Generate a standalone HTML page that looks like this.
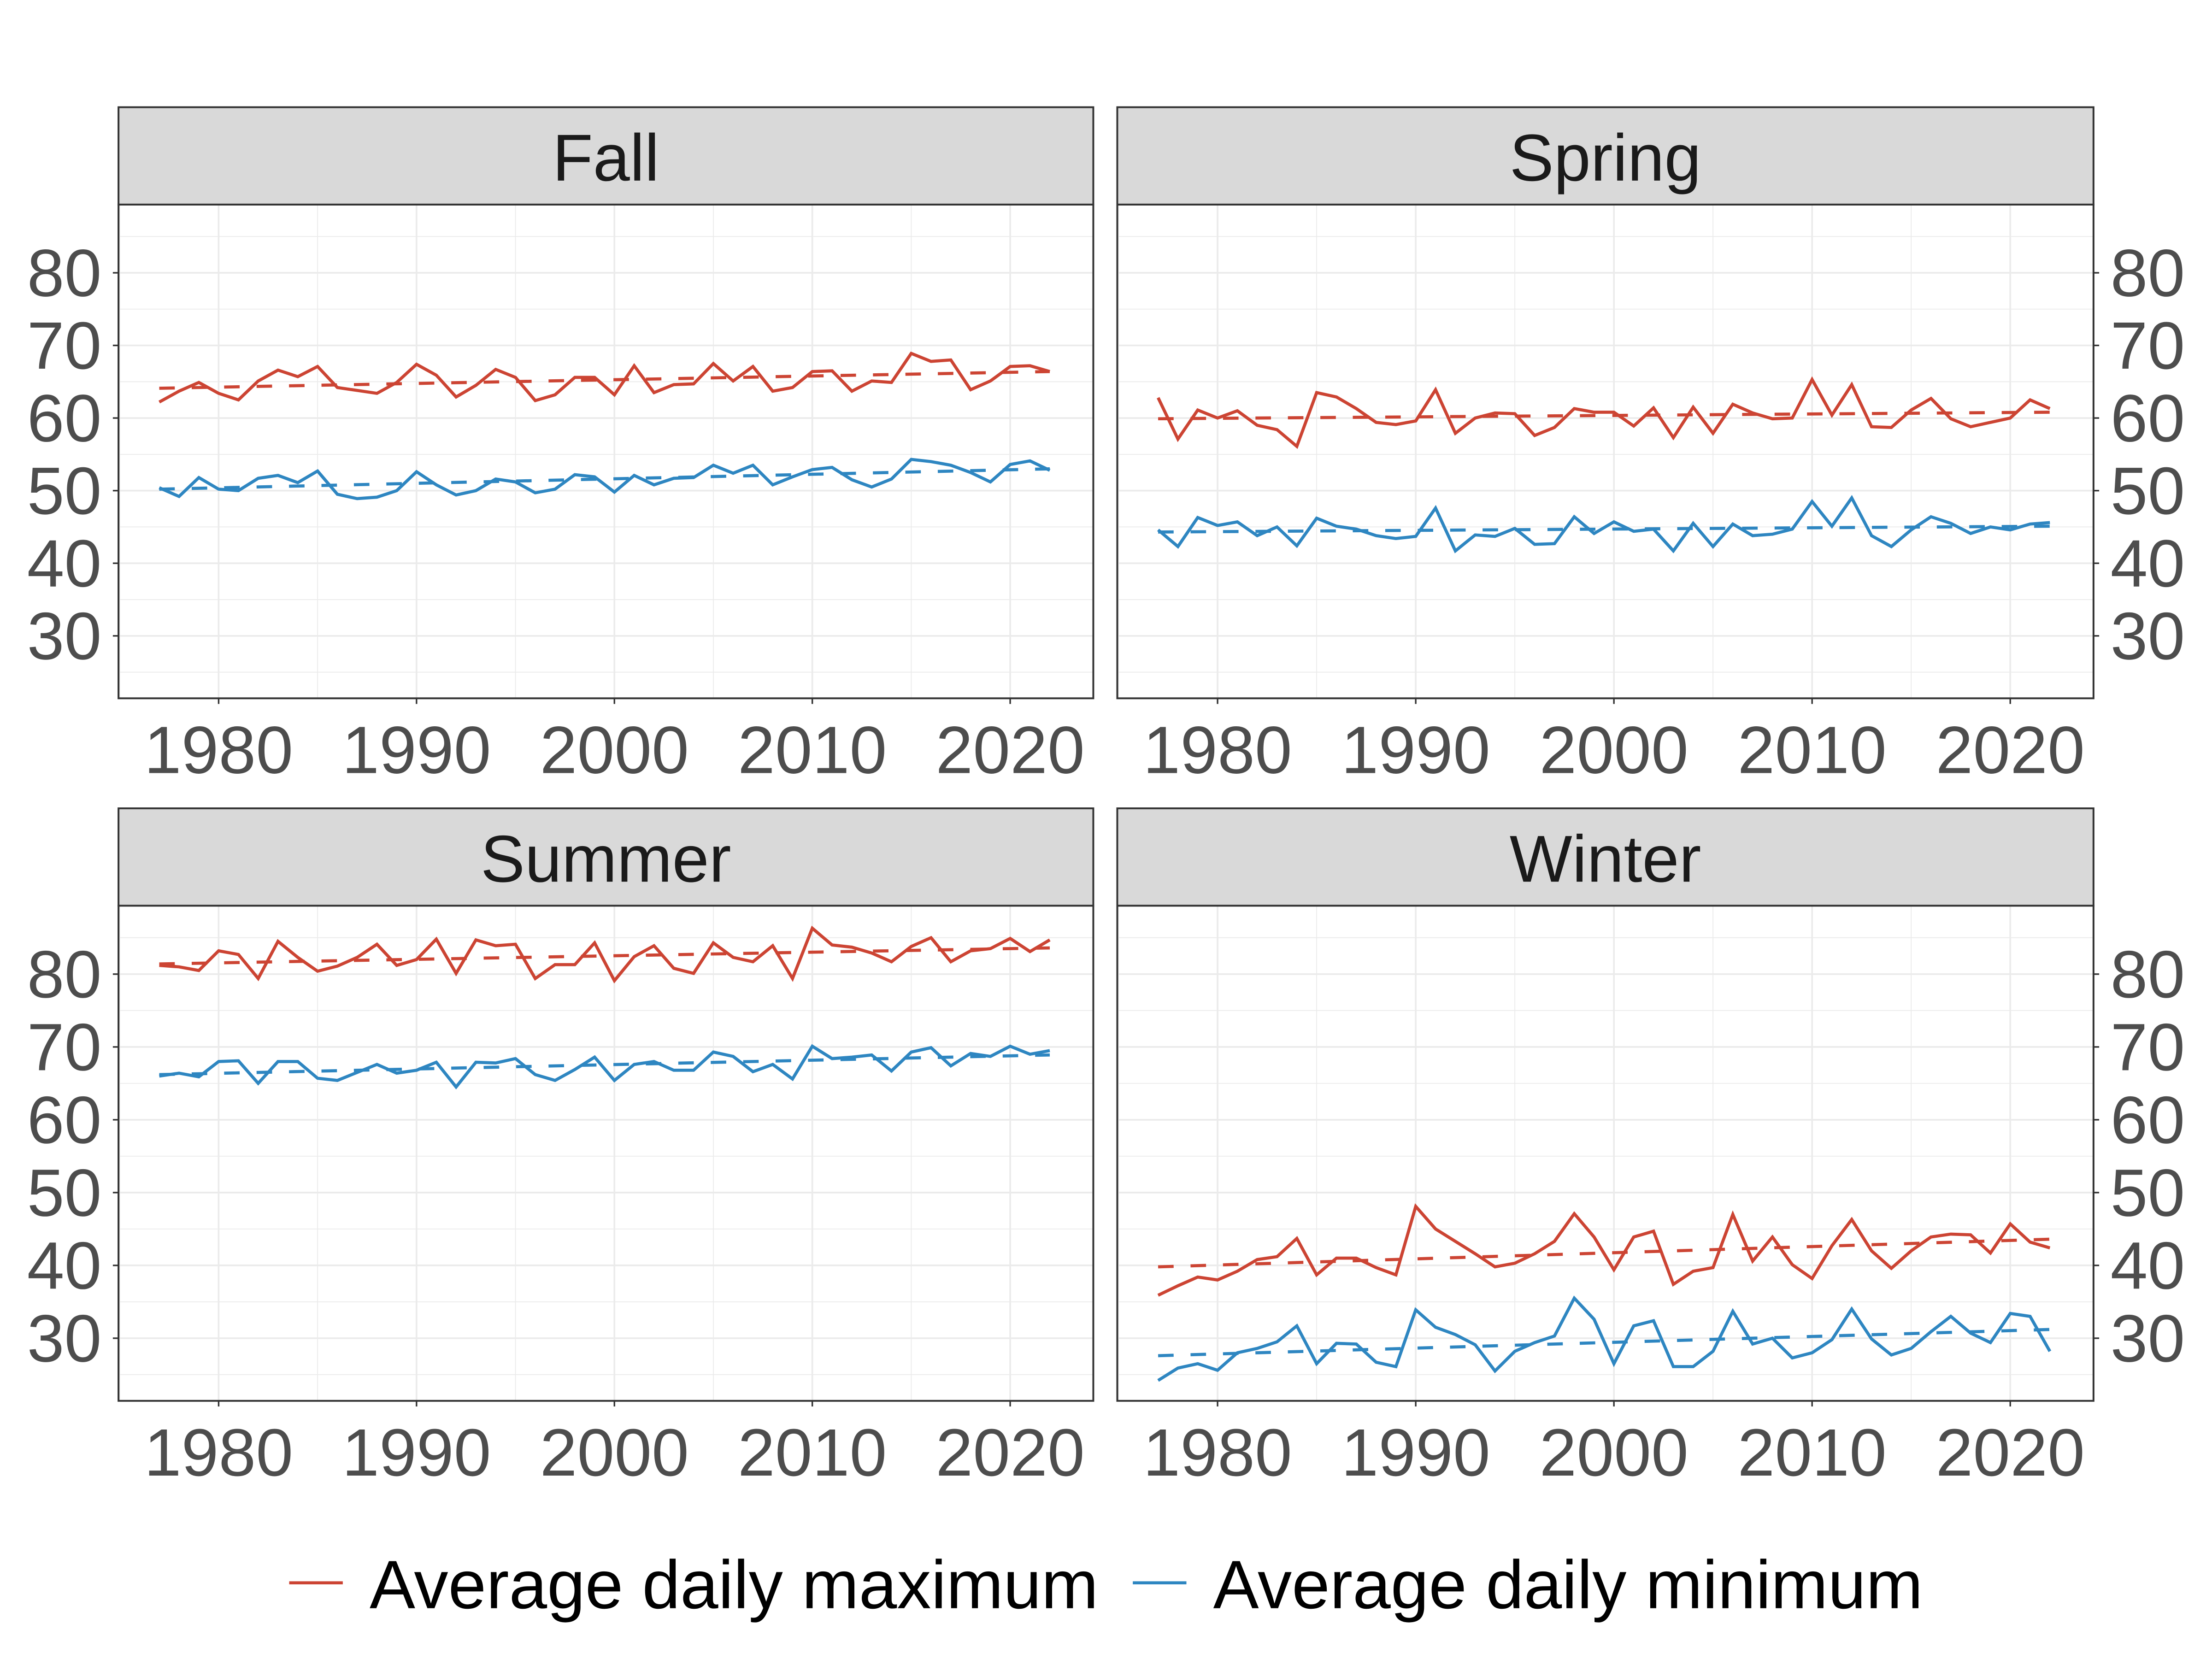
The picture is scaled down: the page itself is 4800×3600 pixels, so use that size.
<!DOCTYPE html>
<html><head><meta charset="utf-8"><style>
html,body{margin:0;padding:0;background:#fff;}
svg{display:block;font-family:"Liberation Sans",sans-serif;}
</style></head><body>
<svg id="chart" width="4800" height="3600" viewBox="0 0 1568 1176" xmlns="http://www.w3.org/2000/svg">
<rect width="1568" height="1176" fill="#fff"/>
<g id="panels"></g>
<g id="legend">
  <line x1="205" y1="1122" x2="243" y2="1122" stroke="#cc4433" stroke-width="2.2"/>
  <text x="262" y="1140" font-size="48.5" fill="#000">Average daily maximum</text>
  <line x1="803" y1="1122" x2="841" y2="1122" stroke="#2e86c1" stroke-width="2.2"/>
  <text x="860" y="1140" font-size="48.5" fill="#000">Average daily minimum</text>
</g>
</svg>
<script>
const years = [];
for (let y = 1977; y <= 2022; y++) years.push(y);
const seasons = ["Fall", "Spring", "Summer", "Winter"];
const yTicks = [30, 40, 50, 60, 70, 80];
const xTicks = [1980, 1990, 2000, 2010, 2020];

const fallMax = [62.2,63.7,64.9,63.4,62.5,65.1,66.6,65.7,67.1,64.2,63.8,63.4,64.9,67.4,65.9,62.9,64.5,66.7,65.6,62.4,63.2,65.6,65.6,63.2,67.2,63.5,64.6,64.7,67.5,65.1,67.1,63.7,64.2,66.4,66.5,63.7,65.1,64.9,68.9,67.8,68.0,63.9,65.1,67.1,67.2,66.4];
const fallMin = [50.4,49.2,51.8,50.2,50.0,51.7,52.1,51.1,52.7,49.5,48.9,49.1,50.0,52.6,50.8,49.4,50.0,51.6,51.2,49.7,50.2,52.2,51.9,49.8,52.1,50.8,51.7,51.8,53.5,52.4,53.5,50.8,51.9,52.9,53.2,51.5,50.5,51.6,54.3,54.0,53.5,52.5,51.2,53.6,54.1,52.8];
const springMax = [62.8,57.1,61.1,60.0,61.0,59.0,58.4,56.1,63.5,62.9,61.3,59.4,59.1,59.6,63.9,57.9,60.0,60.7,60.6,57.6,58.7,61.3,60.8,60.8,58.9,61.4,57.3,61.5,57.9,61.9,60.7,59.9,60.0,65.3,60.4,64.6,58.8,58.7,61.1,62.7,59.9,58.8,59.4,60.0,62.5,61.3];
const springMin = [44.6,42.3,46.3,45.2,45.7,43.8,45.0,42.4,46.2,45.1,44.7,43.8,43.4,43.7,47.6,41.7,43.9,43.7,44.8,42.6,42.7,46.4,44.1,45.7,44.4,44.7,41.7,45.5,42.3,45.4,43.8,44.0,44.7,48.5,45.1,49.0,43.8,42.3,44.6,46.4,45.5,44.1,45.0,44.6,45.4,45.6];
const summerMax = [81.2,81.0,80.5,83.2,82.7,79.4,84.5,82.3,80.4,81.1,82.3,84.1,81.2,82.0,84.8,80.1,84.7,83.9,84.1,79.4,81.3,81.3,84.3,79.1,82.4,83.9,80.8,80.1,84.3,82.3,81.7,83.9,79.4,86.3,84.0,83.7,82.9,81.7,83.8,85.0,81.7,83.2,83.5,84.9,83.1,84.7];
const summerMin = [66.0,66.4,65.9,68.0,68.1,65.0,68.0,68.0,65.7,65.4,66.5,67.6,66.4,66.8,67.9,64.5,67.9,67.8,68.4,66.2,65.4,66.9,68.6,65.4,67.6,68.0,66.8,66.8,69.3,68.7,66.6,67.6,65.6,70.1,68.4,68.6,68.9,66.7,69.3,69.9,67.4,69.1,68.7,70.1,69.0,69.5];
const winterMax = [35.9,37.2,38.4,38.0,39.2,40.8,41.2,43.7,38.7,41.0,41.0,39.7,38.7,48.1,45.0,43.3,41.6,39.8,40.3,41.6,43.3,47.1,43.9,39.4,43.9,44.7,37.4,39.2,39.7,47.0,40.6,43.9,40.1,38.2,42.7,46.3,42.0,39.6,42.0,43.9,44.3,44.2,41.7,45.7,43.2,42.4];
const winterMin = [24.2,25.9,26.5,25.6,28.0,28.6,29.5,31.7,26.5,29.3,29.2,26.7,26.1,33.9,31.5,30.5,29.1,25.5,28.2,29.4,30.3,35.5,32.6,26.5,31.7,32.4,26.1,26.1,28.2,33.7,29.2,30.0,27.3,28.0,29.8,34.0,29.9,27.7,28.6,30.9,33.0,30.7,29.4,33.4,33.0,28.2];
// linear trend endpoints [1977, 2022]
const trendMax = [[64.1,66.4],[59.9,60.8],[81.4,83.6],[39.8,43.6]];
const trendMin = [[50.2,53.0],[44.3,45.1],[66.2,68.9],[27.6,31.2]];

const seriesMax = [fallMax, springMax, summerMax, winterMax];
const seriesMin = [fallMin, springMin, summerMin, winterMin];

const NS = "http://www.w3.org/2000/svg";
const root = document.getElementById("panels");
function mk(tag, attrs, parent) {
  const e = document.createElementNS(NS, tag);
  for (const k in attrs) e.setAttribute(k, attrs[k]);
  parent.appendChild(e);
  return e;
}
const layout = [
  {x0: 84, x1: 775, st: 76, y0: 145, y1: 495, right: false},
  {x0: 792, x1: 1484, st: 76, y0: 145, y1: 495, right: true},
  {x0: 84, x1: 775, st: 573, y0: 642, y1: 993, right: false},
  {x0: 792, x1: 1484, st: 573, y0: 642, y1: 993, right: true}
];
const XMIN = 1974.94, XMAX = 2024.2, YMIN = 21.4, YMAX = 89.4;

seasons.forEach((name, i) => {
  const L = layout[i];
  const g = mk("g", {}, root);
  
  
  const sx = v => L.x0 + (v - XMIN) / (XMAX - XMIN) * (L.x1 - L.x0);
  const sy = v => L.y1 - (v - YMIN) / (YMAX - YMIN) * (L.y1 - L.y0);
  const bg = mk("rect", {x: L.x0, y: L.y0, width: L.x1 - L.x0, height: L.y1 - L.y0, fill: "#fff"}, g);
  
  
  for (let v = 25; v <= 85; v += 10) {
    const l = mk("line", {x1: L.x0, x2: L.x1, y1: sy(v), y2: sy(v), stroke: "#ebebeb", "stroke-width": 0.6}, g);
    
    
  }
  for (let v = 1975; v <= 2025; v += 10) {
    if (sx(v) < L.x0 || sx(v) > L.x1) continue;
    const l = mk("line", {x1: sx(v), x2: sx(v), y1: L.y0, y2: L.y1, stroke: "#ebebeb", "stroke-width": 0.6}, g);
    
    
  }
  yTicks.forEach(v => {
    const l = mk("line", {x1: L.x0, x2: L.x1, y1: sy(v), y2: sy(v), stroke: "#ebebeb", "stroke-width": 1.2}, g);
    
    
    const tk = L.right ? mk("line", {x1: L.x1, x2: L.x1 + 4, y1: sy(v), y2: sy(v), stroke: "#333", "stroke-width": 1.1}, g)
                       : mk("line", {x1: L.x0 - 4, x2: L.x0, y1: sy(v), y2: sy(v), stroke: "#333", "stroke-width": 1.1}, g);
    
    
    const t = mk("text", {x: L.right ? L.x1 + 12 : L.x0 - 12, y: sy(v) + 16.5, "font-size": 47.5, fill: "#4d4d4d", "text-anchor": L.right ? "start" : "end"}, g);
    t.textContent = v;
    
    
  });
  xTicks.forEach(v => {
    const l = mk("line", {x1: sx(v), x2: sx(v), y1: L.y0, y2: L.y1, stroke: "#ebebeb", "stroke-width": 1.2}, g);
    
    
    const tk = mk("line", {x1: sx(v), x2: sx(v), y1: L.y1, y2: L.y1 + 4, stroke: "#333", "stroke-width": 1.1}, g);
    
    
    const t = mk("text", {x: sx(v), y: L.y1 + 53, "font-size": 47.5, fill: "#4d4d4d", "text-anchor": "middle"}, g);
    t.textContent = v;
    
    
  });
  [[trendMax[i], "#cc4433", "trend-line-maximum"], [trendMin[i], "#2e86c1", "trend-line-minimum"]].forEach(([tr, c, nm]) => {
    const l = mk("line", {x1: sx(years[0]), y1: sy(tr[0]), x2: sx(years[years.length - 1]), y2: sy(tr[1]), stroke: c, "stroke-width": 2.2, "stroke-dasharray": "11 12"}, g);
    
    
  });
  [[seriesMax[i], "#cc4433", "line-maximum"], [seriesMin[i], "#2e86c1", "line-minimum"]].forEach(([s, c, nm]) => {
    const pts = s.map((v, j) => sx(years[j]).toFixed(2) + "," + sy(v).toFixed(2)).join(" ");
    const p = mk("polyline", {points: pts, fill: "none", stroke: c, "stroke-width": 2.2, "stroke-linejoin": "miter"}, g);
    
    
  });
  const border = mk("rect", {x: L.x0, y: L.y0, width: L.x1 - L.x0, height: L.y1 - L.y0, fill: "none", stroke: "#333", "stroke-width": 1.3}, g);
  
  
  const strip = mk("rect", {x: L.x0, y: L.st, width: L.x1 - L.x0, height: L.y0 - L.st, fill: "#d9d9d9", stroke: "#333", "stroke-width": 1.3}, g);
  
  
  const st = mk("text", {x: (L.x0 + L.x1) / 2, y: L.st + 52, "font-size": 47, fill: "#1a1a1a", "text-anchor": "middle"}, g);
  st.textContent = name;
  
  
});
</script>
</body></html>
